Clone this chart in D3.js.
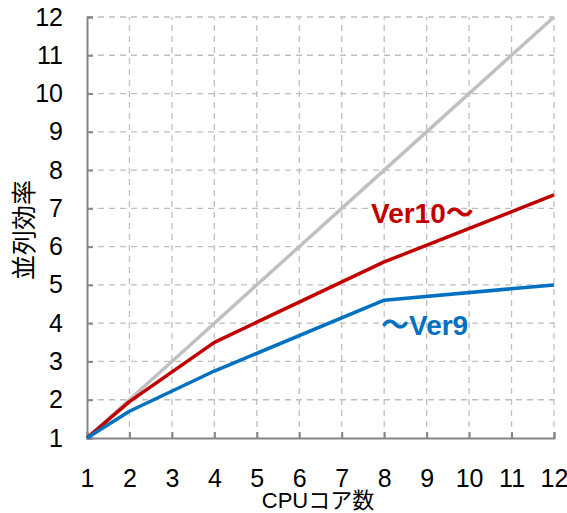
<!DOCTYPE html>
<html>
<head>
<meta charset="utf-8">
<script src="https://cdn.jsdelivr.net/npm/d3@7"></script>
<style>
  body { margin: 0; background: #fff; }
  svg { display: block; font-family: "Liberation Sans", "Noto Sans CJK JP", sans-serif; }
</style>
</head>
<body>
<svg id="chart" width="567" height="513"></svg>
<script>
// chart values
var cores = [1, 2, 4, 8, 12];
var ideal = [1, 2, 4, 8, 12];
var ver10 = [1, 1.95, 3.5, 5.6, 7.35];
var ver9 = [1, 1.7, 2.75, 4.6, 5.0];
var xTicks = d3.range(1, 13);
var yTicks = d3.range(1, 13);

var series = [
  { name: 'ideal', values: ideal, color: '#c0c0c0' },
  { name: 'ver10', values: ver10, color: '#c00000' },
  { name: 'ver9', values: ver9, color: '#0070c0' }
];

var margin = { left: 87, right: 13, top: 17, bottom: 75 };
var svg = d3.select('#chart');
var w = 567, h = 513;

var x = d3.scaleLinear().domain([1, 12]).range([margin.left, w - margin.right]);
var y = d3.scaleLinear().domain([1, 12]).range([h - margin.bottom, margin.top]);

// grid
var grid = svg.append('g').attr('class', 'grid');
grid.selectAll('line.v')
  .data(xTicks.slice(1))
  .enter().append('line')
  .attr('x1', x).attr('x2', x)
  .attr('y1', y(1)).attr('y2', y(12))
  .attr('stroke', '#bfbfbf').attr('stroke-width', 1.3)
  .attr('stroke-dasharray', '6,5');
grid.selectAll('line.h')
  .data(yTicks.slice(1))
  .enter().append('line')
  .attr('y1', y).attr('y2', y)
  .attr('x1', x(1)).attr('x2', x(12))
  .attr('stroke', '#bfbfbf').attr('stroke-width', 1.3)
  .attr('stroke-dasharray', '6,5');

// axes
var xAxis = d3.axisBottom(x).tickValues(xTicks).tickSize(-6).tickPadding(32).tickFormat(d3.format('d'));
var yAxis = d3.axisLeft(y).tickValues(yTicks).tickSize(-6).tickPadding(24).tickFormat(d3.format('d'));

var gx = svg.append('g').attr('transform', 'translate(0,' + y(1) + ')').call(xAxis);
var gy = svg.append('g').attr('transform', 'translate(' + x(1) + ',0)').call(yAxis);

[gx, gy].forEach(function (g) {
  g.select('.domain').attr('stroke', '#868686').attr('stroke-width', 2);
  g.selectAll('.tick line').attr('stroke', '#868686').attr('stroke-width', 2);
  g.selectAll('.tick text')
    .attr('fill', '#000')
    .style('font-size', '25px')
    .style('font-family', '"Liberation Sans Narrow", "Liberation Sans", sans-serif');
});
gx.selectAll('.tick text').attr('dy', '0.68em');

// lines
var line = d3.line()
  .x(function (d, i) { return x(cores[i]); })
  .y(function (d) { return y(d); });

svg.append('g').selectAll('path')
  .data(series)
  .enter().append('path')
  .attr('d', function (d) { return line(d.values); })
  .attr('fill', 'none')
  .attr('stroke', function (d) { return d.color; })
  .attr('stroke-width', 3.5)
  .attr('stroke-linejoin', 'round');

// series labels
svg.append('text')
  .attr('x', 371).attr('y', 223)
  .attr('fill', '#c00000')
  .style('font-size', '28px').style('font-weight', 'bold')
  .text('Ver10～');
svg.append('text')
  .attr('x', 381).attr('y', 335)
  .attr('fill', '#0070c0')
  .style('font-size', '28px').style('font-weight', 'bold')
  .text('～Ver9');

// axis titles
svg.append('text')
  .attr('x', 318).attr('y', 508)
  .attr('text-anchor', 'middle')
  .style('font-size', '22px')
  .text('CPUコア数');
svg.append('text')
  .attr('transform', 'translate(33,' + 230 + ') rotate(-90)')
  .attr('text-anchor', 'middle')
  .style('font-size', '25px')
  .style('font-family', '"Noto Sans CJK JP", sans-serif')
  .text('並列効率');
</script>
</body>
</html>
